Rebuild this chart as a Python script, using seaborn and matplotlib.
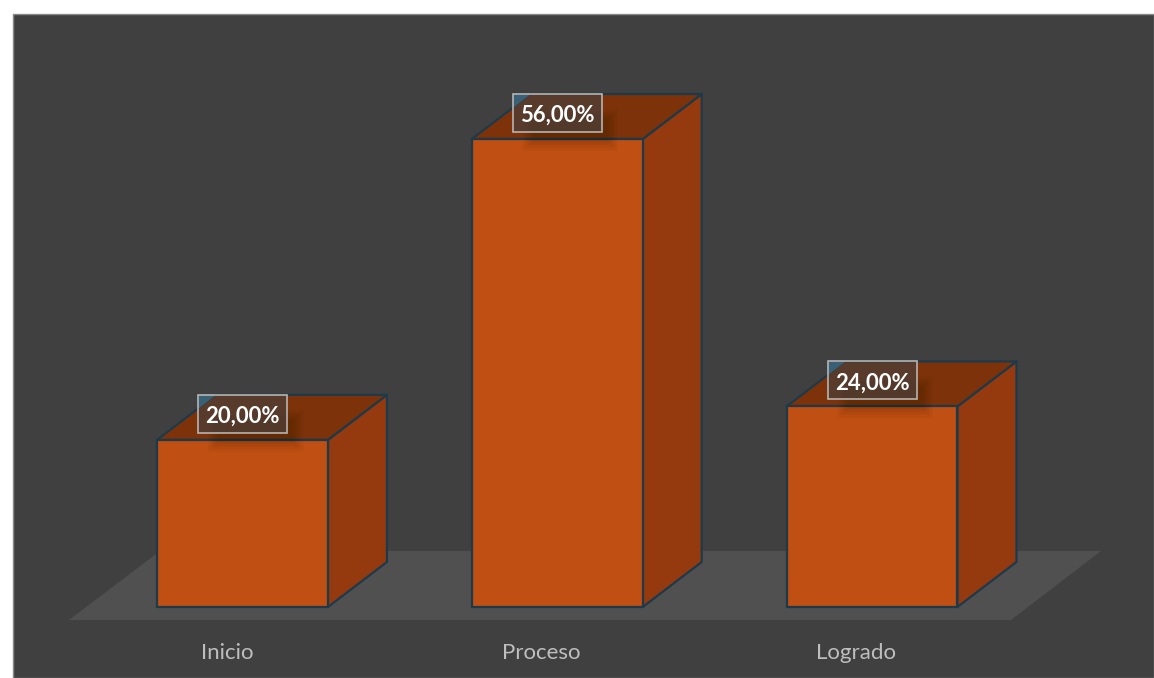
import matplotlib
matplotlib.use("Agg")
import matplotlib.pyplot as plt
from matplotlib.patches import Polygon, Rectangle
from matplotlib.transforms import ScaledTranslation
import pandas as pd
import seaborn as sns

categories = ["Inicio", "Proceso", "Logrado"]
values = [20, 56, 24]
value_labels = ["20,00%", "56,00%", "24,00%"]

W, H = 1154, 678
BG, FLOOR = "#404040", "#505050"
FRONT, SIDE, TOP, EDGE = "#bf4f12", "#95390e", "#7d3209", "#1d3a4b"

sns.set_theme(style="white")
plt.rcParams["font.family"] = ["Lato", "DejaVu Sans"]

fig = plt.figure(figsize=(W / 100, H / 100), dpi=100, facecolor="white")
fig.add_artist(Rectangle((13 / W, 0), 1 - 13 / W, 1 - 14 / H, transform=fig.transFigure,
                         facecolor=BG, edgecolor="#8a8a8a", linewidth=1, zorder=-5))

# Axes spans the panel from the floor's front edge up to the panel top
L, R, T, B = 13, 1154, 14, 620
ax = fig.add_axes([L / W, 1 - B / H, (R - L) / W, (B - T) / H])
ax.patch.set_alpha(0)

df = pd.DataFrame({"cat": categories, "val": values})
sns.barplot(data=df, x="cat", y="val", color=FRONT, saturation=1, width=0.543,
            edgecolor=EDGE, linewidth=1.6, ax=ax, zorder=4)

PX_X = 314.75            # pixels per category
PX_Y = 468 / 56          # pixels per percent
x0, y0 = 242.5, 607      # pixel of category 0 at value 0
ax.set_xlim((L - x0) / PX_X, (R - x0) / PX_X)
ax.set_ylim((y0 - B) / PX_Y, (y0 - T) / PX_Y)
dx, dy = 59 / PX_X, 45 / PX_Y   # oblique depth of each bar

# Floor
fy0, fy1 = ax.get_ylim()[0], (y0 - 551) / PX_Y
ax.add_patch(Polygon([((69 - x0) / PX_X, fy0), ((1011 - x0) / PX_X, fy0),
                      ((1101 - x0) / PX_X, fy1), ((160 - x0) / PX_X, fy1)],
                     closed=True, facecolor=FLOOR, edgecolor="none", zorder=1))

for bar, lab in zip(list(ax.patches)[:3], value_labels):
    a, b = bar.get_x(), bar.get_x() + bar.get_width()
    h = bar.get_height()
    cx = (a + b) / 2
    ax.add_patch(Polygon([(b, 0), (b + dx, dy), (b + dx, h + dy), (b, h)], closed=True,
                         facecolor=SIDE, edgecolor=EDGE, linewidth=1.6, joinstyle="round", zorder=3))
    ax.add_patch(Polygon([(a, h), (b, h), (b + dx, h + dy), (a + dx, h + dy)], closed=True,
                         facecolor=TOP, edgecolor=EDGE, linewidth=1.6, joinstyle="round", zorder=3))
    # soft shadow of the label box
    for s in range(8):
        g = 1.5 * s
        ax.add_patch(Rectangle((cx - (35 - g) / PX_X, h + (-12 + g) / PX_Y),
                               (96 - 2 * g) / PX_X, (42 - 2 * g) / PX_Y,
                               facecolor="black", edgecolor="none", alpha=.018, zorder=5))
    # label box, its corner tint and the text
    ax.add_patch(Rectangle((cx - 44.5 / PX_X, h + 7 / PX_Y), 89 / PX_X, 38 / PX_Y,
                           facecolor="#4b3f3b", edgecolor="none", alpha=.72, zorder=6))
    ax.add_patch(Polygon([(cx - 44.5 / PX_X, h + 45 / PX_Y), (cx - 26.5 / PX_X, h + 45 / PX_Y),
                          (cx - 44.5 / PX_X, h + 31 / PX_Y)], closed=True,
                         facecolor="#3a6076", edgecolor="none", zorder=6.5))
    ax.add_patch(Rectangle((cx - 44.5 / PX_X, h + 7 / PX_Y), 89 / PX_X, 38 / PX_Y,
                           facecolor="none", edgecolor="#b4b4b4", linewidth=1.2, zorder=6.8))
    ax.text(cx, h + 23.5 / PX_Y, lab, ha="center", va="center", color="white", fontsize=15.9,
            fontweight="bold", zorder=7)

ax.set_xlabel("")
ax.set_ylabel("")
ax.set_yticks([])
ax.tick_params(axis="x", length=0, pad=16.3, labelsize=16, labelcolor="#bebebe")
shift = ScaledTranslation(-15.5 / 100, 0, fig.dpi_scale_trans)
for t in ax.get_xticklabels():
    t.set_transform(t.get_transform() + shift)
    t.set_clip_on(False)
sns.despine(ax=ax, left=True, bottom=True)
fig.savefig("out.png", dpi=100)
